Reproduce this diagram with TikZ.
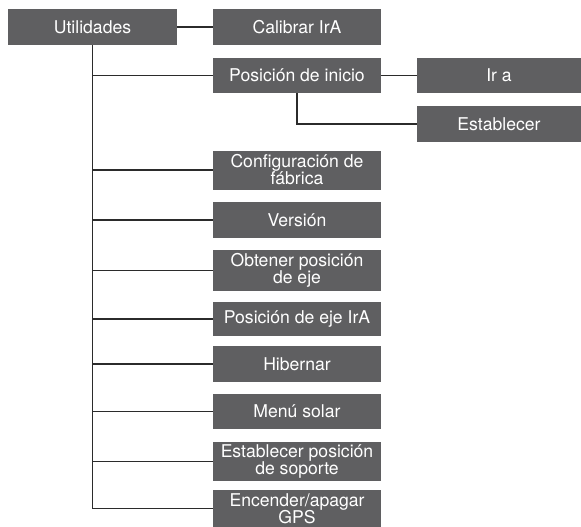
\documentclass[tikz,border=0pt]{standalone}
\usepackage{fontspec}
\setmainfont{TeX Gyre Heros}
\usetikzlibrary{calc,positioning}
\definecolor{menugray}{HTML}{5F5F61}
\definecolor{wire}{HTML}{2B2B2B}

\begin{document}
\begin{tikzpicture}[x=1pt,y=-1pt,
  menu/.style={fill=menugray,text=white,inner sep=0pt,minimum width=168pt,minimum height=36pt,align=center,font=\fontsize{17.6}{17}\selectfont},
  wireline/.style={draw=wire,line width=1.1pt}]
\useasboundingbox (0,0) rectangle (581,527);
\node[menu,minimum width=169pt] (util) at (92.5,27){Utilidades};
\node[menu] (calib) at (297,27){Calibrar IrA};
\node[menu,minimum height=35pt] (inicio) at (297,75.5){Posición de inicio};
\node[menu,minimum width=164pt,minimum height=35pt] (ira) at (499,75.5){Ir a};
\node[menu,minimum width=164pt] (estab) at (499,124){Establecer};
\node[menu,minimum height=39pt] (config) at (297,170){Configuración de\\fábrica};
\node[menu] (version) at (297,220){Versión};
\node[menu,minimum height=41pt] (obtener) at (297,270.5){Obtener posición\\de eje};
\node[menu,minimum height=34pt] (ejeira) at (297,319){Posición de eje IrA};
\node[menu] (hibernar) at (297,364){Hibernar};
\node[menu,minimum height=35pt] (solar) at (297,411.5){Menú solar};
\node[menu,minimum height=39pt] (soporte) at (297,461.5){Establecer posición\\de soporte};
\node[menu,minimum height=37pt] (gps) at (297,508.5){Encender/apagar\\GPS};
% connectors
\draw[wireline] (util)--(calib);\draw[wireline] (inicio)--(ira);
\draw[wireline] (inicio.south) |- (estab.west);
\draw[wireline,line width=1.6pt] (util.south) -- (util.south |- gps.west);
\foreach \n in {inicio,config,version,obtener,ejeira,hibernar,solar,soporte,gps}
  \draw[wireline] (util.south |- \n.west) -- (\n.west);
\end{tikzpicture}
\end{document}
